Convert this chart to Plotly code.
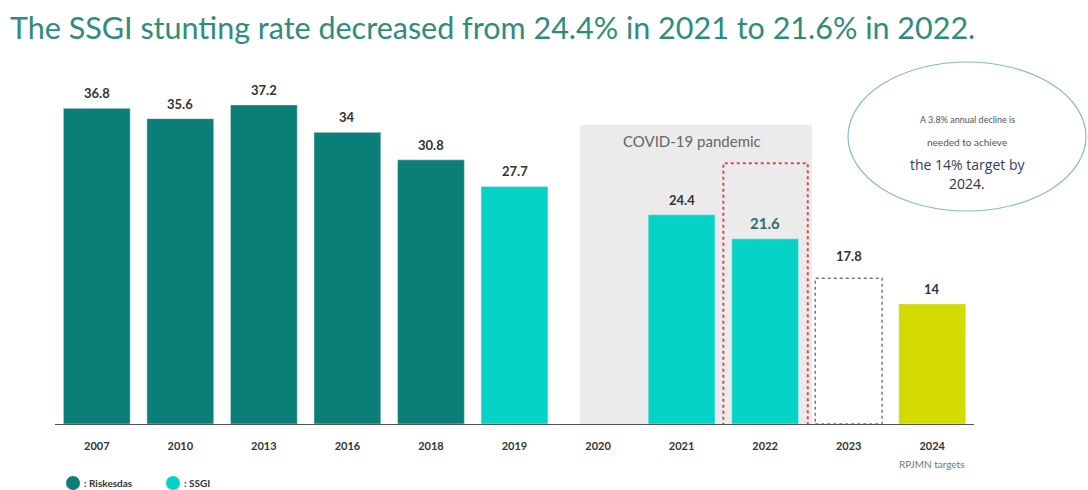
import plotly.graph_objects as go

years = ["2007", "2010", "2013", "2016", "2018", "2019", "2020", "2021", "2022", "2023", "2024"]
riskesdas = [36.8, 35.6, 37.2, 34, 30.8, None, None, None, None, None, None]
ssgi = [None, None, None, None, None, 27.7, None, 24.4, 21.6, None, None]
target_2023 = [None, None, None, None, None, None, None, None, None, 17.8, None]
target_2024 = [None, None, None, None, None, None, None, None, None, None, 14]
labels = ["36.8", "35.6", "37.2", "34", "30.8", "27.7", "", "24.4", "21.6", "17.8", "14"]
highlight_year = "2022"
covid_years = ["2020", "2021", "2022"]

DARK_TEAL = "#0b7f77"
CYAN = "#05d3c6"
YELLOW = "#d2da00"
TITLE = "#2f8c7d"

W, H = 1088, 490
ML, MR, MT, MB = 55, 114, 38, 66
PW, PH = W - ML - MR, H - MT - MB

def px(x):
    return (x - ML) / PW

def py(y):
    return (H - MB - y) / PH

fig = go.Figure()
fig.add_trace(go.Bar(x=years, y=riskesdas, marker_color=DARK_TEAL, name="Riskesdas", width=0.8))
fig.add_trace(go.Bar(x=years, y=ssgi, marker_color=CYAN, name="SSGI", width=0.8))
fig.add_trace(go.Bar(x=years, y=target_2024, marker_color=YELLOW, name="Target", width=0.8))
fig.add_trace(go.Bar(x=years, y=target_2023, marker=dict(color="white", line=dict(width=0)), name="Target 2023", width=0.8))

# dotted outline for 2023 target bar
i23 = years.index("2023")
fig.add_shape(type="rect", xref="x", yref="y", x0=i23 - 0.4, x1=i23 + 0.4, y0=0, y1=target_2023[i23] - 0.8,
              line=dict(color="#777777", width=1.5, dash="dot"), fillcolor="rgba(0,0,0,0)", layer="above")

# COVID shaded region
ci0 = years.index(covid_years[0]); ci1 = years.index(covid_years[-1])
fig.add_shape(type="rect", xref="x", yref="y", x0=ci0 - 0.22, x1=ci1 + 0.56, y0=-3.9, y1=34.9,
              fillcolor="#ebebeb", line=dict(width=0), layer="below")
fig.add_annotation(x=(ci0 + ci1) / 2 + 0.12, y=33.0, xref="x", yref="y", text="COVID-19 pandemic",
                   showarrow=False, font=dict(family="Lato", size=15, color="#666666"))

# highlight box 2022
ih = years.index(highlight_year)
fig.add_shape(type="rect", xref="x", yref="y", x0=ih - 0.5, x1=ih + 0.51, y0=-4.3, y1=30.4,
              line=dict(color="#e0474c", width=2, dash="dot"), fillcolor="rgba(0,0,0,0)", layer="above")

# value labels
all_vals = [next((s[i] for s in (riskesdas, ssgi, target_2023, target_2024) if s[i] is not None), None)
            for i in range(len(years))]
for i, (yr, v, lab) in enumerate(zip(years, all_vals, labels)):
    if v is None:
        continue
    col = "#2f6e68" if yr == highlight_year else "#333333"
    fig.add_annotation(x=i, y=v, xref="x", yref="y", text=f"<b>{lab}</b>", showarrow=False,
                       yanchor="bottom", yshift=5,
                       font=dict(family="Lato", size=15 if yr == highlight_year else 13, color=col))

fig.add_annotation(x=px(932), y=py(464), xref="paper", yref="paper", xanchor="center", yanchor="middle",
                   text="RPJMN targets", showarrow=False,
                   font=dict(family="Lato", size=10, color="#777777"))

# title
fig.add_annotation(x=px(8), y=py(27), xref="paper", yref="paper", xanchor="left", yanchor="middle",
                   text="The SSGI stunting rate decreased from 24.4% in 2021 to 21.6% in 2022.",
                   showarrow=False, font=dict(family="Lato", size=30.5, color=TITLE))

# ellipse callout
fig.add_shape(type="circle", xref="paper", yref="paper", x0=px(848), x1=px(1086), y0=py(211), y1=py(62),
              line=dict(color="#8bb8cc", width=1.2), fillcolor="white", layer="above")
callout = [("A 3.8% annual decline is", 120, "Lato", 9, "#555555"),
           ("needed to achieve", 142, "Lato", 10, "#555555"),
           ("the 14% target by", 164, "Open Sans", 14, "#2d3f5e"),
           ("2024.", 183, "Open Sans", 14, "#333333")]
for txt, yy, fam, sz, col in callout:
    fig.add_annotation(x=px(967), y=py(yy), xref="paper", yref="paper", xanchor="center", yanchor="middle",
                       text=txt, showarrow=False, font=dict(family=fam, size=sz, color=col))

# custom legend
for cx, col, txt in [(73, DARK_TEAL, ": Riskesdas"), (173, CYAN, ": SSGI")]:
    fig.add_shape(type="circle", xref="paper", yref="paper", x0=px(cx - 7), x1=px(cx + 7),
                  y0=py(490), y1=py(476), fillcolor=col, line=dict(width=0))
    fig.add_annotation(x=px(cx + 9), y=py(483), xref="paper", yref="paper", xanchor="left", yanchor="middle",
                       text=f"<b>{txt}</b>", showarrow=False,
                       font=dict(family="Lato", size=10, color="#333333"))

fig.update_layout(
    width=W, height=H, margin=dict(l=ML, r=MR, t=MT, b=MB),
    paper_bgcolor="white", plot_bgcolor="white", showlegend=False, barmode="overlay",
    xaxis=dict(type="category", categoryorder="array", categoryarray=years, showline=True,
               linecolor="#555555", linewidth=1.2, showgrid=False, ticks="", ticklabelstandoff=12,
               tickfont=dict(family="Lato", size=11, color="#333333", weight="bold"),
               range=[-0.5, len(years) - 0.5]),
    yaxis=dict(range=[0, 45], visible=False, showgrid=False),
)

fig.write_html("out.html")
